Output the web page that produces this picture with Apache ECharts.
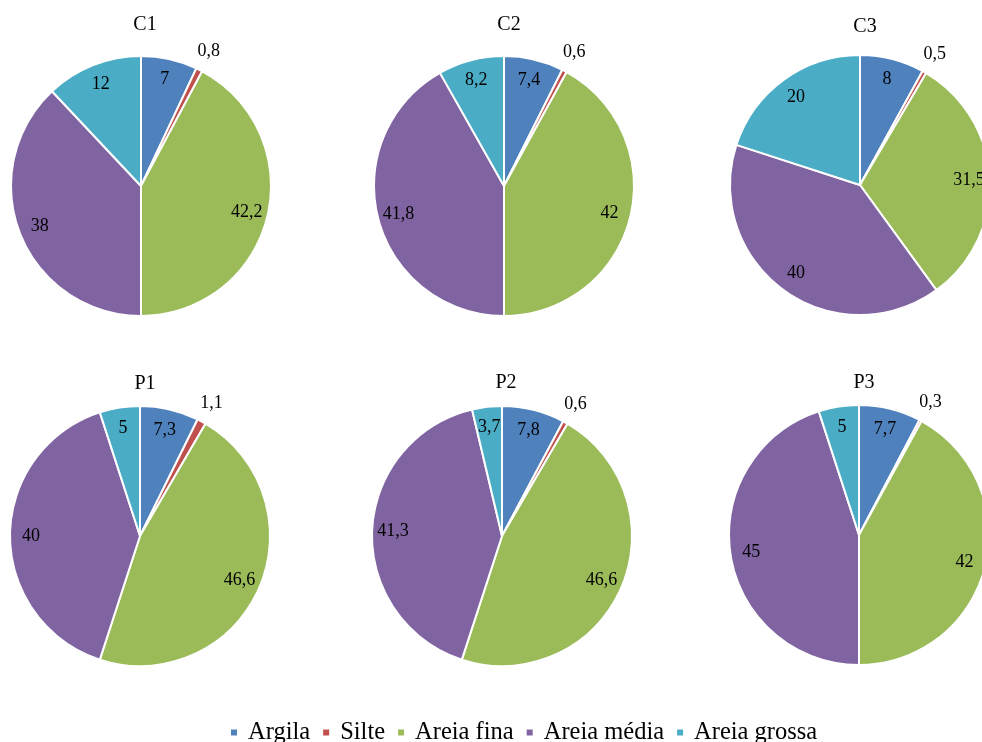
<!DOCTYPE html>
<html>
<head>
<meta charset="utf-8">
<script src="https://cdn.jsdelivr.net/npm/echarts@6/dist/echarts.min.js"></script>
<style>html,body{margin:0;padding:0;background:#fff;}#c{width:982px;height:742px;}</style>
</head>
<body>
<div id="c"></div>
<script>
const categories = ['Argila', 'Silte', 'Areia fina', 'Areia média', 'Areia grossa'];
const colors = ['#4F81BD', '#C0504D', '#9BBB59', '#8064A2', '#4BACC6'];
const chartNames = ['C1', 'C2', 'C3', 'P1', 'P2', 'P3'];
const C1 = [7, 0.8, 42.2, 38, 12];
const C2 = [7.4, 0.6, 42, 41.8, 8.2];
const C3 = [8, 0.5, 31.5, 40, 20];
const P1 = [7.3, 1.1, 46.6, 40, 5];
const P2 = [7.8, 0.6, 46.6, 41.3, 3.7];
const P3 = [7.7, 0.3, 42, 45, 5];
const allValues = [C1, C2, C3, P1, P2, P3];

const centers = [[141, 186], [504, 186], [860, 185], [140, 536], [502, 536], [859, 535]];
const titlePos = [[140, 10], [504, 10], [860, 12], [140, 369], [501, 368], [859, 368]];
const R = 130;
const FONT = 'Liberation Serif';

const fmt = v => String(v).replace('.', ',');
const smallIdx = 1; // Silte label drawn outside

const series = [];
const titles = [];
allValues.forEach((vals, k) => {
  titles.push({
    text: chartNames[k], left: titlePos[k][0], top: titlePos[k][1], textAlign: 'center',
    textStyle: { fontFamily: FONT, fontSize: 20, fontWeight: 'normal', color: '#000' }
  });
  series.push({
    type: 'pie', center: centers[k], radius: [0, R], startAngle: 90, clockwise: true,
    silent: true, animation: false,
    label: { show: false }, labelLine: { show: false },
    itemStyle: { borderColor: '#fff', borderWidth: 2 },
    data: categories.map((c, i) => ({ name: c, value: vals[i], itemStyle: { color: colors[i] } }))
  });
  series.push({
    type: 'pie', center: centers[k], radius: [82, R], startAngle: 90, clockwise: true,
    silent: true, animation: false, legendHoverLink: false,
    itemStyle: { color: 'rgba(0,0,0,0)', borderWidth: 0 },
    labelLine: { show: false },
    label: { show: true, position: 'inside', fontFamily: FONT, fontSize: 18, color: '#000',
      formatter: p => fmt(p.value) },
    data: categories.map((c, i) => ({ name: c, value: vals[i],
      label: { show: i !== smallIdx } }))
  });
  series.push({
    type: 'pie', center: centers[k], radius: [R + 6, R + 30], startAngle: 90, clockwise: true,
    silent: true, animation: false, legendHoverLink: false,
    itemStyle: { color: 'rgba(0,0,0,0)', borderWidth: 0 },
    labelLine: { show: false },
    label: { show: true, position: 'inside', fontFamily: FONT, fontSize: 18, color: '#000',
      formatter: p => fmt(p.value) },
    data: categories.map((c, i) => ({ name: c, value: vals[i],
      label: { show: i === smallIdx } }))
  });
});

const chart = echarts.init(document.getElementById('c'), null, { renderer: 'canvas' });
chart.setOption({
  backgroundColor: '#fff',
  animation: false,
  title: titles,
  legend: {
    left: 224, top: 715, itemWidth: 8, itemHeight: 8, itemGap: 11, icon: 'rect',
    textStyle: { fontFamily: FONT, fontSize: 24.5, color: '#000', padding: [0, 0, 0, 5] },
    data: categories.map((c, i) => ({ name: c, itemStyle: { color: colors[i] } }))
  },
  series: series
});
</script>
</body>
</html>
